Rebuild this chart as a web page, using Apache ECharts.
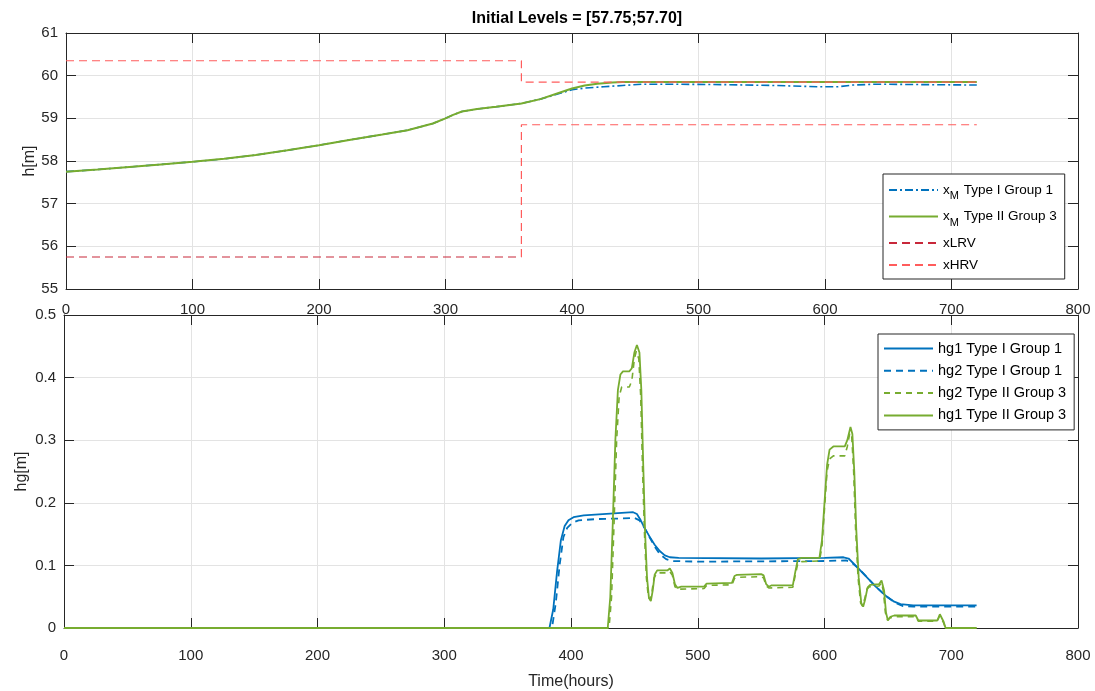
<!DOCTYPE html>
<html><head><meta charset="utf-8">
<script src="https://cdn.jsdelivr.net/npm/echarts@6/dist/echarts.min.js"></script>
<style>html,body{margin:0;padding:0;background:#fff}#c{width:1095px;height:691px}</style>
</head><body><div id="c"></div><script>
// ---- data ----
const titleText = 'Initial Levels = [57.75;57.70]';
const xTickInterval = 100;
const topYRange = [55, 61];
const bottomYRange = [0, 0.5];

const xM_TypeI_G1 = [[0,57.75],[25,57.8],[50,57.86],[75,57.92],[100,57.98],[125,58.05],[150,58.14],[175,58.25],[200,58.37],[225,58.5],[250,58.62],[270,58.72],[290,58.88],[300,59.0],[306,59.08],[313,59.16],[325,59.22],[340,59.27],[360,59.35],[375,59.45],[390,59.58],[400,59.67],[410,59.71],[425,59.74],[440,59.77],[455,59.8],[480,59.8],[520,59.79],[560,59.77],[595,59.74],[610,59.74],[622,59.78],[640,59.8],[680,59.79],[720,59.78]];
const xM_TypeII_G3 = [[0,57.75],[25,57.8],[50,57.86],[75,57.92],[100,57.98],[125,58.05],[150,58.14],[175,58.25],[200,58.37],[225,58.5],[250,58.62],[270,58.72],[290,58.88],[300,59.0],[306,59.08],[313,59.16],[325,59.22],[340,59.27],[360,59.35],[375,59.45],[390,59.6],[400,59.7],[410,59.77],[420,59.81],[432,59.84],[440,59.85],[720,59.85]];
const xLRV = [[0,55.75],[360,55.75]];
const xHRV = [[0,60.35],[360,60.35],[360,59.85],[720,59.85]];
const xHRV_low = [[360,55.75],[360,58.85],[720,58.85]];

const hg1_TypeI_G1 = [[0,0],[383,0],[386,0.03],[389,0.09],[392,0.14],[395,0.163],[398,0.172],[402,0.177],[410,0.18],[425,0.182],[440,0.184],[449,0.185],[452,0.182],[455,0.172],[458,0.16],[462,0.146],[466,0.133],[470,0.123],[474,0.116],[478,0.113],[485,0.112],[550,0.111],[600,0.112],[615,0.113],[619,0.111],[625,0.099],[632,0.084],[640,0.067],[648,0.052],[655,0.042],[660,0.038],[670,0.036],[720,0.036]];
const hg2_TypeI_G1 = [[0,0],[385,0],[388,0.04],[391,0.1],[394,0.145],[397,0.16],[401,0.168],[406,0.172],[420,0.174],[440,0.175],[450,0.176],[454,0.172],[458,0.16],[462,0.145],[466,0.13],[470,0.118],[475,0.11],[480,0.107],[500,0.106],[600,0.107],[617,0.108],[621,0.105],[627,0.095],[634,0.08],[641,0.065],[649,0.05],[656,0.04],[662,0.035],[670,0.034],[720,0.034]];
const hg2_TypeII_G3 = [[0,0],[430,0],[432,0.05],[434,0.17],[436,0.3],[438,0.37],[440,0.385],[446,0.385],[448,0.395],[450,0.43],[451.5,0.442],[453.5,0.43],[455,0.37],[456.5,0.25],[458,0.15],[459.5,0.08],[461,0.05],[462.5,0.045],[464,0.06],[465.5,0.08],[468,0.088],[476,0.088],[478,0.09],[480,0.084],[482,0.066],[484,0.062],[505,0.063],[507,0.068],[527,0.069],[529,0.079],[531,0.081],[550,0.082],[552,0.08],[554,0.067],[556,0.064],[575,0.065],[577,0.085],[579,0.104],[582,0.106],[596,0.107],[598,0.13],[600,0.19],[602,0.25],[604,0.27],[607,0.275],[616,0.275],[618,0.29],[620,0.312],[621.5,0.305],[623,0.25],[624.5,0.16],[626.5,0.08],[628.5,0.04],[630,0.035],[631.5,0.045],[633.5,0.062],[635.5,0.066],[643,0.067],[645,0.072],[646.5,0.058],[648,0.025],[649.5,0.013],[651.5,0.016],[655,0.018],[672,0.018],[674,0.011],[689,0.011],[691,0.02],[692.5,0.022],[694,0.008],[695.5,0],[720,0]];
const hg1_TypeII_G3 = [[0,0],[429,0],[431,0.05],[433,0.17],[435,0.3],[437,0.38],[439,0.405],[441,0.41],[446,0.41],[448,0.415],[450,0.44],[452,0.452],[454,0.44],[455.5,0.38],[457,0.26],[458.5,0.15],[460,0.08],[461.5,0.048],[463,0.043],[464.5,0.06],[466,0.085],[468,0.092],[476,0.092],[478,0.095],[480,0.088],[482,0.07],[484,0.064],[487,0.066],[505,0.066],[507,0.071],[527,0.072],[529,0.083],[531,0.085],[550,0.086],[552,0.084],[554,0.07],[556,0.066],[558,0.068],[575,0.068],[577,0.09],[579,0.11],[582,0.112],[596,0.112],[598,0.14],[600,0.2],[602,0.26],[604,0.285],[607,0.29],[616,0.29],[618,0.3],[620.5,0.321],[622,0.31],[623.5,0.25],[625,0.16],[627,0.08],[629,0.04],[630.5,0.034],[632,0.045],[634,0.065],[636,0.069],[643,0.07],[645,0.076],[647,0.06],[648.5,0.025],[650,0.012],[652,0.018],[655,0.02],[672,0.02],[674,0.012],[689,0.012],[691,0.022],[692.5,0.024],[694,0.01],[695.5,0],[720,0]];

// ---- styling ----
const AX = '#262626', GRID = '#e3e3e3', FONT = 'Liberation Sans, Arial, sans-serif';
const BLUE = '#0072BD', GREEN = '#77AC30', RED1 = '#c8283a', RED2 = '#ff5c5c';

function xAx(gi, pos, show, margin) {
  return {type:'value', gridIndex:gi, position:pos, min:0, max:800, interval:xTickInterval,
    axisLine:{show:true, onZero:false, lineStyle:{color:AX, width:1}},
    axisTick:{show:true, inside:true, length:10, lineStyle:{color:AX}},
    axisLabel:{show:show, color:AX, fontSize:15, fontFamily:FONT, margin: margin},
    splitLine:{show:show, lineStyle:{color:GRID, width:1}}};
}
function yAx(gi, pos, show, rng, iv) {
  return {type:'value', gridIndex:gi, position:pos, min:rng[0], max:rng[1], interval:iv,
    axisLine:{show:true, onZero:false, lineStyle:{color:AX, width:1}},
    axisTick:{show:true, inside:true, length:10, lineStyle:{color:AX}},
    axisLabel:{show:show, color:AX, fontSize:15, fontFamily:FONT, margin:8},
    splitLine:{show:show, lineStyle:{color:GRID, width:1}}};
}
const xa = [xAx(0,'bottom',true,13), xAx(0,'top',false,8), xAx(1,'bottom',true,20), xAx(1,'top',false,8)];
xa[2].name = 'Time(hours)'; xa[2].nameLocation='middle'; xa[2].nameGap=46; xa[2].nameMoveOverlap=false;
xa[2].nameTextStyle = {color:AX, fontSize:16, fontFamily:FONT};
const ya = [yAx(0,'left',true,topYRange,1), yAx(0,'right',false,topYRange,1),
            yAx(1,'left',true,bottomYRange,0.1), yAx(1,'right',false,bottomYRange,0.1)];
ya[0].name='h[m]'; ya[0].nameLocation='middle'; ya[0].nameGap=28; ya[0].nameMoveOverlap=false;
ya[0].nameTextStyle={color:AX,fontSize:16,fontFamily:FONT};
ya[2].name='hg[m]'; ya[2].nameLocation='middle'; ya[2].nameGap=34; ya[2].nameMoveOverlap=false;
ya[2].nameTextStyle={color:AX,fontSize:16,fontFamily:FONT};
ya[2].axisLabel.formatter = v => v===0 ? '0' : v.toFixed(1);

function ln(name, data, xi, yi, color, width, type) {
  return {name, type:'line', data, xAxisIndex:xi, yAxisIndex:yi, symbol:'none', showSymbol:false,
    animation:false, lineStyle:{color, width, type}, itemStyle:{color}, z: 3};
}

const option = {
  backgroundColor:'#fff',
  animation:false,
  title:{text:titleText, left:572, top:6, textAlign:'center',
    textStyle:{color:'#000', fontSize:16, fontWeight:'bold', fontFamily:FONT}},
  grid:[{left:66, top:33, width:1012, height:256}, {left:64, top:315, width:1014, height:318}],
  xAxis: xa, yAxis: ya,
  legend:[
    {left:883, top:174, orient:'vertical', itemWidth:49, itemHeight:12, itemGap:8,
     padding:[9,8,7,5], backgroundColor:'#fff', borderColor:AX, borderWidth:1, borderRadius:0,
     itemStyle:{opacity:0},
     data:['xM Type I Group 1','xM Type II Group 3','xLRV','xHRV'],
     formatter: n => n.startsWith('xM') ? '{n|x}{s|M}{n|' + n.slice(2) + '}' : n,
     textStyle:{color:'#000', fontSize:13.5, fontFamily:FONT,
       rich:{n:{fontSize:13.5, fontFamily:FONT, color:'#000'}, s:{fontSize:11, fontFamily:FONT, color:'#000', padding:[12,1,0,0]}}}},
    {left:878, top:334, orient:'vertical', itemWidth:49, itemHeight:14, itemGap:7.3,
     padding:[7,8,7,5], backgroundColor:'#fff', borderColor:AX, borderWidth:1, borderRadius:0,
     itemStyle:{opacity:0},
     data:['hg1 Type I Group 1','hg2 Type I Group 1','hg2 Type II Group 3','hg1 Type II Group 3'],
     textStyle:{color:'#000', fontSize:14.5, fontFamily:FONT}}
  ],
  series:[
    ln('xM Type I Group 1', xM_TypeI_G1, 0, 0, BLUE, 1.6, [8,3,2,3]),
    ln('xM Type II Group 3', xM_TypeII_G3, 0, 0, GREEN, 2, 'solid'),
    ln('xLRV', xLRV, 0, 0, RED1, 1.2, [8,5]),
    ln('xHRV', xHRV, 0, 0, RED2, 1.2, [8,5]),
    ln('xHRV low', xHRV_low, 0, 0, RED2, 1.2, [8,5]),
    ln('hg1 Type I Group 1', hg1_TypeI_G1, 2, 2, BLUE, 1.8, 'solid'),
    ln('hg2 Type I Group 1', hg2_TypeI_G1, 2, 2, BLUE, 1.8, [7,5]),
    ln('hg2 Type II Group 3', hg2_TypeII_G3, 2, 2, GREEN, 1.6, [6,5]),
    ln('hg1 Type II Group 3', hg1_TypeII_G3, 2, 2, GREEN, 1.8, 'solid')
  ]
};
const chart = echarts.init(document.getElementById('c'), null, {renderer:'canvas'});
chart.setOption(option);
</script></body></html>
